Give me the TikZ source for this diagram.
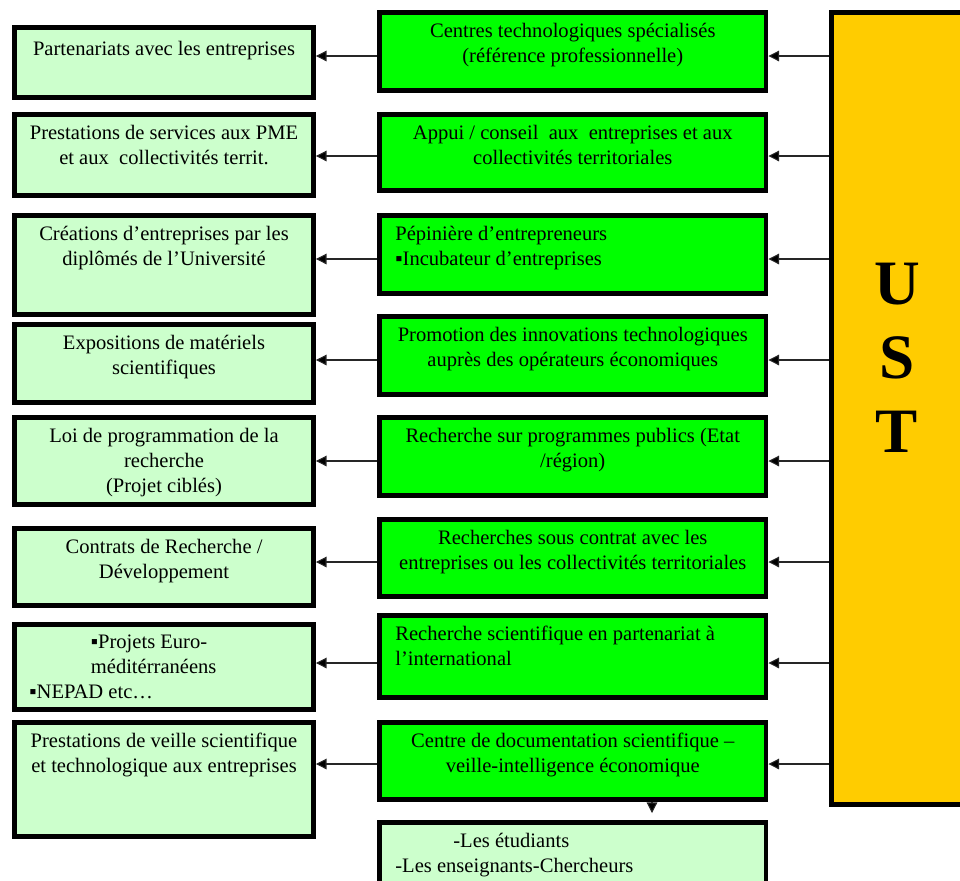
\documentclass[tikz,border=0pt]{standalone}
\usepackage{fontspec}
\setmainfont{Liberation Serif}
\usepackage{tikz}
\usetikzlibrary{positioning}
\usetikzlibrary{fit}
\usetikzlibrary{arrows.meta}
\usepackage{xcolor}

\definecolor{vertpale}{HTML}{CCFFCC}
\definecolor{vertvif}{HTML}{00FF00}
\definecolor{orust}{HTML}{FFCC00}

\tikzset{
  gauche/.style={draw=black, line width=2.8pt, fill=vertpale, inner sep=0pt},
  milieu/.style={draw=black, line width=2.8pt, fill=vertvif, inner sep=0pt},
  colonne/.style={draw=black, line width=2.8pt, fill=orust, inner sep=0pt},
  texte/.style={font=\fontsize{11.7}{14.2}\selectfont, inner sep=0pt, align=center, execute at begin node=\strut},
  texteg/.style={texte, align=left},
  lettres/.style={font=\fontsize{36}{42}\selectfont\bfseries, inner sep=0pt, align=center},
  fleche/.style={draw=black!85, line width=0.6pt, -{Triangle[length=6pt,width=6pt,fill=black]}}
}

\begin{document}
\begin{tikzpicture}[x=0.02cm, y=-0.02cm]

\useasboundingbox (0,0) rectangle (960,880);
\clip (0,0) rectangle (960,880);

\begin{scope}{
% colonne de gauche
\node[gauche, fit={(14.5,27.5) (313.5,97.5)}] (g1) {};
\node[gauche, fit={(14.5,114.5) (313.5,195.5)}] (g2) {};
\node[gauche, fit={(14.5,215.5) (313.5,314.5)}] (g3) {};
\node[gauche, fit={(14.5,324.5) (313.5,402.5)}] (g4) {};
\node[gauche, fit={(14.5,417.5) (313.5,504.5)}] (g5) {};
\node[gauche, fit={(14.5,528.5) (313.5,605.5)}] (g6) {};
\node[gauche, fit={(14.5,624.5) (313.5,709.5)}] (g7) {};
\node[gauche, fit={(14.5,722.5) (313.5,836.5)}] (g8) {};

\node[texte, below=0.25cm of g1.north] (tg1) {Partenariats avec les entreprises};
\node[texte, below=0.25cm of g2.north] (tg2) {Prestations de services aux PME\\et aux\ \ collectivités territ.};
\node[texte, below=0.25cm of g3.north] (tg3) {Créations d’entreprises par les\\diplômés de l’Université};
\node[texte, below=0.25cm of g4.north] (tg4) {Expositions de matériels\\scientifiques};
\node[texte, below=0.25cm of g5.north] (tg5) {Loi de programmation de la\\recherche\\(Projet ciblés)};
\node[texte, below=0.25cm of g6.north] (tg6) {Contrats de Recherche /\\Développement};
\node[texteg, below right=0.25cm and 0.34cm of g7.north west] (tg7) {\hspace*{35pt}▪Projets Euro-\\\hspace*{35pt}méditérranéens\\▪NEPAD etc…};
\node[texte, below=0.25cm of g8.north] (tg8) {Prestations de veille scientifique\\et technologique aux entreprises};
} \end{scope}

\begin{scope}{
% colonne du milieu
\node[milieu, fit={(379.5,12.5) (766,90.5)}] (m1) {};
\node[milieu, fit={(379.5,114.5) (766,190.5)}] (m2) {};
\node[milieu, fit={(379.5,215.5) (766,293.5)}] (m3) {};
\node[milieu, fit={(379.5,316.5) (766,394.5)}] (m4) {};
\node[milieu, fit={(379.5,417.5) (766,495.5)}] (m5) {};
\node[milieu, fit={(379.5,519.5) (766,596.5)}] (m6) {};
\node[milieu, fit={(379.5,615.5) (766,697.5)}] (m7) {};
\node[milieu, fit={(379.5,722.5) (766,799.5)}] (m8) {};
\node[gauche, fit={(379.5,822.5) (766,905)}] (m9) {};

\node[texte, below=0.25cm of m1.north] (tm1) {Centres technologiques spécialisés\\(référence professionnelle)};
\node[texte, below=0.25cm of m2.north] (tm2) {Appui / conseil\ \ aux\ \ entreprises et aux\\collectivités territoriales};
\node[texteg, below right=0.25cm and 0.36cm of m3.north west] (tm3) {Pépinière d’entrepreneurs\\▪Incubateur d’entreprises};
\node[texte, below=0.25cm of m4.north] (tm4) {Promotion des innovations technologiques\\auprès des opérateurs économiques};
\node[texte, below=0.25cm of m5.north] (tm5) {Recherche sur programmes publics (Etat\\/région)};
\node[texte, below=0.25cm of m6.north] (tm6) {Recherches sous contrat avec les\\entreprises ou les collectivités territoriales};
\node[texteg, below right=0.25cm and 0.36cm of m7.north west] (tm7) {Recherche scientifique en partenariat à\\l’international};
\node[texte, below=0.25cm of m8.north] (tm8) {Centre de documentation scientifique –\\veille-intelligence économique};
\node[texteg, below right=0.25cm and 0.36cm of m9.north west] (tm9) {\hspace*{33pt}-Les étudiants\\-Les enseignants-Chercheurs};
} \end{scope}

\begin{scope}{
% UST
\node[colonne, fit={(831.5,12.5) (980,804.5)}] (ust) {};
\node[lettres] (sigle) at (897,358) {U\\S\\T};
} \end{scope}

\draw[fleche] (ust.west |- 0,56) -- (m1.east |- 0,56);
\draw[fleche] (ust.west |- 0,156) -- (m2.east |- 0,156);
\draw[fleche] (ust.west |- 0,259) -- (m3.east |- 0,259);
\draw[fleche] (ust.west |- 0,360) -- (m4.east |- 0,360);
\draw[fleche] (ust.west |- 0,461) -- (m5.east |- 0,461);
\draw[fleche] (ust.west |- 0,562) -- (m6.east |- 0,562);
\draw[fleche] (ust.west |- 0,663) -- (m7.east |- 0,663);
\draw[fleche] (ust.west |- 0,764) -- (m8.east |- 0,764);

\draw[fleche] (m1.west |- 0,56) -- (g1.east |- 0,56);
\draw[fleche] (m2.west |- 0,156) -- (g2.east |- 0,156);
\draw[fleche] (m3.west |- 0,259) -- (g3.east |- 0,259);
\draw[fleche] (m4.west |- 0,360) -- (g4.east |- 0,360);
\draw[fleche] (m5.west |- 0,461) -- (g5.east |- 0,461);
\draw[fleche] (m6.west |- 0,562) -- (g6.east |- 0,562);
\draw[fleche] (m7.west |- 0,663) -- (g7.east |- 0,663);
\draw[fleche] (m8.west |- 0,764) -- (g8.east |- 0,764);

\draw[fleche, shorten >=4pt] (m8.south -| 652,0) -- (m9.north -| 652,0);

\end{tikzpicture}
\end{document}
